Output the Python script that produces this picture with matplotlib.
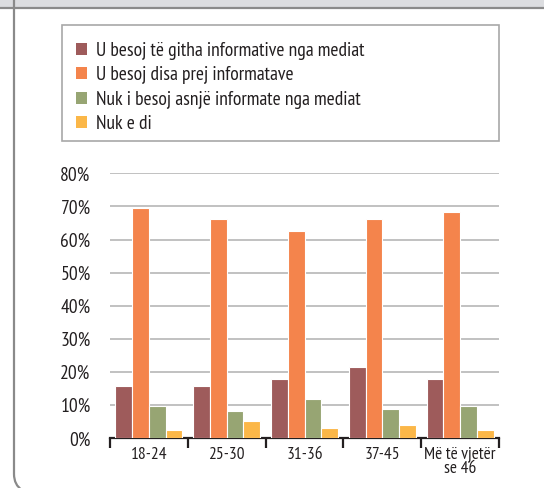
import matplotlib.pyplot as plt
import numpy as np
from matplotlib.patches import Rectangle, Patch
from matplotlib.path import Path
from matplotlib.patches import PathPatch

plt.rcParams['font.family'] = ['PT Sans Narrow', 'DejaVu Sans']

categories = ['18-24', '25-30', '31-36', '37-45', 'Më të vjetër\nse 46']
series_names = ['U besoj të githa informative nga mediat',
                'U besoj disa prej informatave',
                'Nuk i besoj asnjë informate nga mediat',
                'Nuk e di']
all_info = [15.8, 15.8, 17.9, 21.5, 17.9]
some_info = [69.6, 66.3, 62.6, 66.3, 68.4]
no_info = [9.8, 8.2, 11.9, 8.9, 9.8]
dont_know = [2.6, 5.3, 3.2, 4.0, 2.6]
colors = ['#9e5b5b', '#f4844c', '#97a573', '#fbb748']

W, H = 544, 488
fig = plt.figure(figsize=(W / 100, H / 100), dpi=100)

# frame decorations (pixel coords -> figure fraction)
def fx(x):
    return x / W

def fy(y):
    return 1 - y / H

fig.patches.append(Rectangle((0, fy(8)), 1, 8 / H, transform=fig.transFigure,
                             facecolor='#dcdde0', edgecolor='none', zorder=0))
fig.add_artist(plt.Line2D([0, 1], [fy(8), fy(8)], transform=fig.transFigure,
                          color='#8a8a8a', lw=1.6))
verts = [(fx(14), fy(0)), (fx(14), fy(474)), (fx(14), fy(485)), (fx(22), fy(490))]
codes = [Path.MOVETO, Path.LINETO, Path.CURVE3, Path.CURVE3]
fig.add_artist(PathPatch(Path(verts, codes), transform=fig.transFigure,
                         facecolor='none', edgecolor='#8a8a8a', lw=1.6))

# legend box
fig.patches.append(Rectangle((fx(62), fy(141)), (499 - 62) / W, (141 - 25) / H,
                             transform=fig.transFigure, facecolor='white',
                             edgecolor='#a8a8a8', lw=1.2, zorder=1))

ax = fig.add_axes([fx(110), fy(438.3), (499 - 110) / W, (438.3 - 173.3) / H])

data = [all_info, some_info, no_info, dont_know]
x = np.arange(len(categories))
width = 0.215
for i, vals in enumerate(data):
    ax.bar(x + (i - 1.5) * width, vals, width, color=colors[i],
           edgecolor='white', linewidth=0.8, zorder=3)

ax.set_xlim(-0.5, len(categories) - 0.5)
ax.set_ylim(0, 80)
ax.set_yticks(np.arange(0, 81, 10))
ax.set_yticklabels([f'{v}%' for v in range(0, 81, 10)], fontsize=14, color='#231f20')
ax.yaxis.grid(True, color='#b0b0b0', lw=1.1)
ax.set_axisbelow(True)
ax.tick_params(axis='y', length=0, pad=14)

ax.set_xticks(np.arange(-0.5, len(categories)), minor=False)
ax.set_xticklabels([])
ax.tick_params(axis='x', direction='out', length=7, width=1.6, color='#231f20')
ax.set_xticks(x, minor=True)
ax.set_xticklabels(categories, minor=True, fontsize=12.5, color='#231f20', linespacing=0.9)
ax.tick_params(axis='x', which='minor', length=0, pad=6)

for s in ['top', 'right', 'left']:
    ax.spines[s].set_visible(False)
ax.spines['bottom'].set_color('#231f20')
ax.spines['bottom'].set_linewidth(1.6)

handles = [Patch(facecolor=c, edgecolor='none') for c in colors]
leg = fig.legend(handles, series_names, loc='upper left',
                 bbox_to_anchor=(fx(66), fy(32)), frameon=False, fontsize=14,
                 handlelength=0.6, handleheight=0.6, handletextpad=0.45,
                 labelspacing=0.33, borderpad=0, labelcolor='#231f20')
leg.set_zorder(5)

fig.savefig('out.png', dpi=100, facecolor='white')
